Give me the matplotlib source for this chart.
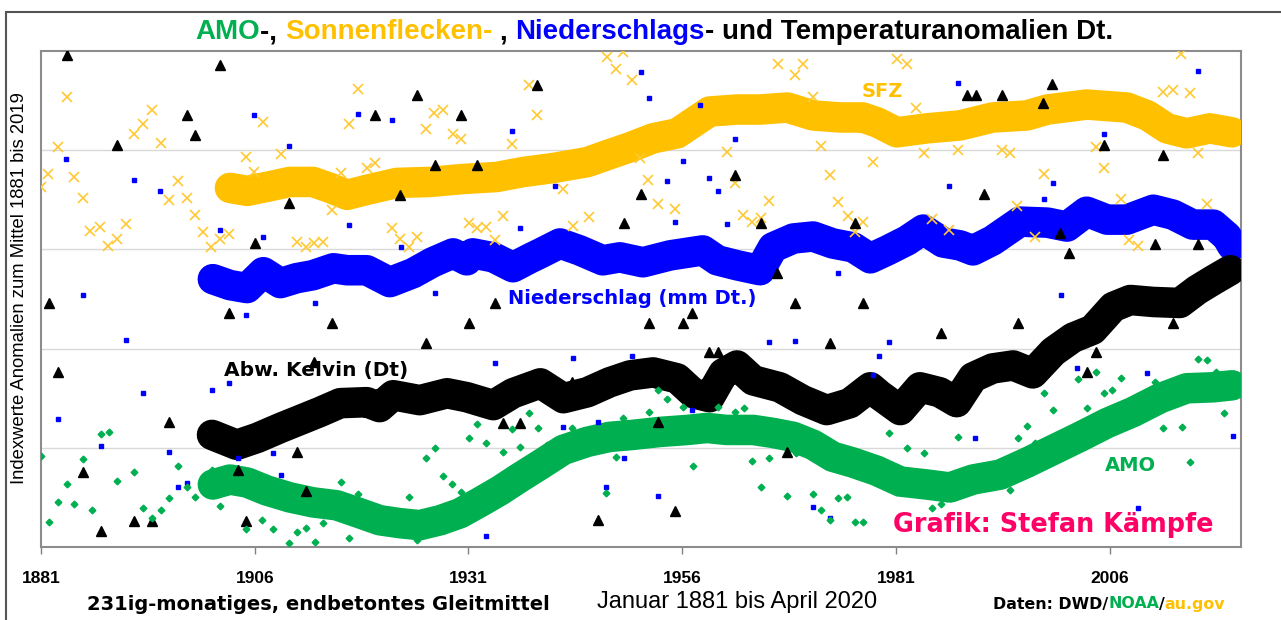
import matplotlib
matplotlib.use("Agg")
import matplotlib.pyplot as plt
from matplotlib.patches import Rectangle

# smoothed curves (231-month moving means), index units 0..5
sfz_years = [1903.1, 1905.1, 1907.4, 1910.1, 1912.8, 1914.8, 1916.8, 1919.1, 1922.6, 1926.5,
             1930.4, 1934.3, 1937.4, 1940.9, 1944.9, 1947.2, 1949.9, 1952.6, 1955.4, 1957.3,
             1959.2, 1962.4, 1965.1, 1968.3, 1971.3, 1974.5, 1977.1, 1978.8, 1981.1, 1984.6,
             1988.5, 1992.3, 1996.3, 1998.7, 2003.3, 2008.0, 2010.4, 2012.7, 2015.0, 2017.7, 2020.3]
sfz_vals = [3.62, 3.59, 3.63, 3.68, 3.68, 3.62, 3.55, 3.60, 3.67, 3.68,
            3.71, 3.73, 3.78, 3.82, 3.88, 3.95, 4.03, 4.12, 4.17, 4.28,
            4.39, 4.41, 4.41, 4.43, 4.35, 4.33, 4.33, 4.28, 4.18, 4.22,
            4.25, 4.33, 4.35, 4.41, 4.46, 4.43, 4.35, 4.22, 4.17, 4.22, 4.18]

ns_years = [1901.1, 1903.1, 1905.1, 1907.0, 1909.0, 1910.9, 1912.8, 1915.2, 1916.8, 1919.1,
            1921.8, 1924.5, 1926.8, 1929.2, 1930.8, 1931.5, 1933.9, 1936.2, 1938.2, 1939.4,
            1941.7, 1944.0, 1946.7, 1948.7, 1951.4, 1954.6, 1958.4, 1960.1, 1962.4, 1965.1,
            1966.6, 1969.0, 1971.3, 1973.6, 1976.0, 1978.0, 1980.0, 1982.3, 1984.2, 1986.5,
            1988.5, 1990.0, 1992.3, 1995.5, 1998.7, 2001.0, 2003.3, 2005.7, 2008.0, 2011.1,
            2013.4, 2015.7, 2018.1, 2019.7, 2020.3]
ns_vals = [2.70, 2.64, 2.61, 2.77, 2.66, 2.71, 2.74, 2.81, 2.79, 2.79,
           2.67, 2.76, 2.87, 2.96, 2.89, 2.96, 2.92, 2.82, 2.91, 2.96,
           3.06, 2.99, 2.89, 2.92, 2.87, 2.94, 2.99, 2.89, 2.84, 2.79,
           3.02, 3.11, 3.13, 3.06, 3.02, 2.91, 2.99, 3.09, 3.20, 3.07,
           3.04, 2.99, 3.09, 3.28, 3.27, 3.23, 3.38, 3.30, 3.30, 3.40,
           3.35, 3.25, 3.25, 3.13, 3.04]

t_years = [1901.0, 1903.9, 1906.3, 1909.0, 1911.3, 1913.6, 1916.0, 1919.1, 1920.6, 1922.2,
           1925.3, 1928.5, 1930.8, 1933.9, 1936.2, 1939.4, 1942.1, 1944.9, 1947.5, 1949.9,
           1952.6, 1955.4, 1957.3, 1959.2, 1960.8, 1962.4, 1964.3, 1967.4, 1970.1, 1972.9,
           1975.6, 1978.0, 1979.1, 1981.5, 1983.8, 1986.1, 1988.1, 1990.0, 1992.3, 1994.7,
           1997.0, 1999.4, 2001.7, 2004.0, 2006.4, 2008.4, 2011.1, 2014.2, 2016.2, 2018.1, 2020.1]
t_vals = [1.13, 1.03, 1.10, 1.20, 1.28, 1.36, 1.45, 1.46, 1.41, 1.53,
          1.48, 1.55, 1.51, 1.43, 1.55, 1.65, 1.50, 1.56, 1.66, 1.73,
          1.76, 1.70, 1.55, 1.51, 1.75, 1.83, 1.68, 1.61, 1.48, 1.38,
          1.45, 1.61, 1.53, 1.38, 1.61, 1.56, 1.46, 1.71, 1.80, 1.83,
          1.75, 1.97, 2.11, 2.19, 2.42, 2.49, 2.47, 2.46, 2.59, 2.69, 2.79]

amo_years = [1901.1, 1903.1, 1905.1, 1907.4, 1910.1, 1912.8, 1915.6, 1918.3, 1920.6, 1923.0,
             1925.3, 1927.7, 1930.0, 1932.3, 1934.7, 1937.0, 1939.4, 1942.1, 1944.9, 1947.5,
             1950.2, 1953.4, 1956.6, 1958.9, 1961.2, 1964.3, 1966.6, 1969.0, 1971.3, 1973.6,
             1976.0, 1978.7, 1981.5, 1984.6, 1987.3, 1990.0, 1993.2, 1996.3, 1999.4, 2002.5,
             2005.7, 2008.7, 2011.9, 2015.0, 2018.1, 2020.3]
amo_vals = [0.63, 0.68, 0.65, 0.57, 0.50, 0.45, 0.42, 0.34, 0.27, 0.24,
            0.22, 0.27, 0.34, 0.45, 0.57, 0.70, 0.83, 0.98, 1.06, 1.11,
            1.13, 1.16, 1.18, 1.20, 1.18, 1.18, 1.15, 1.11, 1.03, 0.91,
            0.85, 0.77, 0.66, 0.63, 0.60, 0.68, 0.73, 0.85, 0.98, 1.11,
            1.25, 1.36, 1.50, 1.60, 1.61, 1.63]

# yearly values (only those inside the visible range)
sfz_pt_x = [1884.0, 1883.0, 1881.8, 1884.9, 1885.9, 1881.0, 1886.7, 1887.9, 1888.8, 1889.9,
            1890.9, 1891.9, 1892.9, 1894.0, 1895.0, 1897.0, 1896.0, 1898.1, 1899.0, 1899.9,
            1900.9, 1901.9, 1903.0, 1905.0, 1905.9, 1907.0, 1909.1, 1910.9, 1912.0, 1912.9,
            1914.0, 1915.0, 1916.1, 1917.0, 1918.1, 1919.1, 1920.1, 1922.1, 1923.0, 1924.0,
            1925.0, 1926.0, 1927.0, 1928.0, 1929.2, 1930.1, 1931.1, 1932.0, 1933.0, 1934.1,
            1935.0, 1936.1, 1938.1, 1939.0, 1942.1, 1943.2, 1945.1, 1947.2, 1948.3, 1949.1,
            1950.1, 1951.1, 1952.0, 1953.2, 1955.2, 1961.2, 1962.2, 1963.1, 1964.2, 1965.2,
            1966.1, 1967.2, 1969.2, 1970.1, 1971.3, 1972.2, 1973.3, 1974.2, 1975.4, 1976.2,
            1977.1, 1978.3, 1981.1, 1982.3, 1983.3, 1984.3, 1985.2, 1987.2, 1988.3, 1993.4,
            1994.3, 1995.2, 1997.3, 1998.3, 2004.4, 2005.3, 2007.3, 2008.3, 2009.3, 2012.2,
            2013.4, 2014.3, 2015.4, 2016.3, 2017.4]
sfz_pt_y = [4.54, 4.03, 3.76, 3.73, 3.52, 3.63, 3.19, 3.23, 3.03, 3.10,
            3.26, 4.16, 4.26, 4.41, 4.07, 3.69, 3.50, 3.52, 3.35, 3.18,
            3.02, 3.10, 3.16, 3.93, 3.78, 4.28, 3.96, 3.07, 3.02, 3.06,
            3.07, 3.40, 3.77, 4.26, 4.62, 3.82, 3.87, 3.22, 3.10, 3.02,
            3.12, 4.21, 4.38, 4.41, 4.16, 4.11, 3.27, 3.22, 3.23, 3.09,
            3.34, 4.06, 4.66, 4.35, 3.61, 3.24, 3.33, 4.94, 4.82, 4.99,
            4.71, 3.92, 3.70, 3.46, 3.41, 3.98, 3.67, 3.35, 3.28, 3.32,
            3.49, 4.87, 4.76, 4.87, 4.54, 4.04, 3.75, 3.48, 3.34, 3.18,
            3.28, 3.88, 4.92, 4.87, 4.43, 3.97, 3.31, 3.20, 4.00, 4.00,
            3.97, 3.44, 3.13, 3.76, 4.03, 3.82, 3.51, 3.09, 3.03, 4.59,
            4.61, 4.97, 4.58, 3.97, 3.46]

ns_pt_x = [1883.9, 1885.9, 1883.0, 1888.0, 1890.9, 1891.9, 1892.9, 1894.9, 1896.0, 1897.0,
           1898.1, 1901.0, 1901.9, 1903.0, 1904.0, 1905.0, 1905.9, 1907.0, 1908.1, 1909.1,
           1910.0, 1913.0, 1917.0, 1918.1, 1922.1, 1923.1, 1927.1, 1933.0, 1934.1, 1936.1,
           1937.0, 1941.1, 1942.1, 1943.2, 1946.1, 1947.1, 1949.2, 1950.1, 1951.2, 1952.1,
           1953.2, 1954.2, 1955.2, 1956.1, 1957.1, 1958.1, 1959.1, 1960.2, 1961.2, 1962.2,
           1966.1, 1969.2, 1971.3, 1973.3, 1974.2, 1978.3, 1979.0, 1980.2, 1987.2, 1988.3,
           1990.2, 1998.3, 1999.4, 2000.3, 2002.2, 2005.3, 2009.3, 2010.4, 2016.3, 2020.4]
ns_pt_y = [3.91, 2.54, 1.29, 1.02, 2.09, 3.70, 1.55, 3.59, 0.96, 0.60,
           0.65, 1.58, 3.20, 1.65, 0.90, 2.34, 4.35, 3.12, 0.95, 0.73,
           4.04, 2.46, 3.25, 4.36, 4.30, 3.02, 2.56, 0.11, 1.85, 4.19,
           3.22, 3.64, 1.21, 1.91, 1.26, 0.60, 0.90, 1.93, 4.79, 4.53,
           0.51, 3.69, 3.28, 3.89, 1.38, 4.46, 3.72, 3.59, 3.26, 4.11,
           2.07, 2.08, 0.40, 0.29, 2.76, 1.73, 1.93, 2.07, 3.64, 4.68,
           1.10, 3.51, 3.67, 2.54, 1.80, 4.16, 0.39, 1.75, 4.80, 1.12]

t_pt_x = [1881.9, 1883.0, 1884.0, 1885.9, 1888.0, 1889.9, 1891.9, 1894.0, 1896.0, 1898.1,
          1899.0, 1901.9, 1903.0, 1904.0, 1905.0, 1906.0, 1910.0, 1910.9, 1912.0, 1912.9,
          1915.0, 1920.1, 1923.0, 1925.0, 1926.0, 1927.1, 1930.1, 1931.1, 1932.0, 1934.1,
          1935.0, 1937.0, 1939.0, 1943.1, 1946.1, 1949.2, 1951.2, 1952.1, 1953.2, 1955.2,
          1956.1, 1957.1, 1959.1, 1960.2, 1962.2, 1965.2, 1967.1, 1968.3, 1969.2, 1973.3,
          1976.2, 1977.1, 1986.3, 1989.3, 1990.4, 1991.3, 1993.4, 1995.3, 1998.2, 1999.2,
          2000.2, 2001.2, 2003.3, 2004.4, 2005.3, 2011.3, 2012.2, 2013.4, 2016.3]
t_pt_y = [2.46, 1.76, 4.96, 0.76, 0.16, 4.05, 0.26, 0.26, 1.26, 4.35,
          4.15, 4.86, 2.36, 0.78, 0.26, 3.06, 3.47, 0.96, 0.56, 1.86,
          2.26, 4.35, 3.55, 4.56, 2.06, 3.85, 4.35, 2.26, 3.85, 2.46,
          1.25, 1.25, 4.66, 1.66, 0.27, 3.27, 3.56, 2.26, 1.26, 0.36,
          2.26, 2.36, 1.97, 1.97, 3.75, 3.27, 2.76, 0.96, 2.46, 2.06,
          3.27, 2.46, 2.16, 4.56, 4.56, 3.56, 4.56, 2.26, 4.48, 4.67,
          3.17, 2.96, 1.76, 1.97, 4.05, 3.05, 3.95, 2.26, 3.05]

amo_pt_x = [1881.0, 1881.9, 1883.0, 1884.0, 1884.9, 1885.9, 1887.0, 1888.0, 1889.0, 1889.9,
            1891.9, 1892.9, 1894.0, 1895.0, 1896.0, 1897.0, 1898.1, 1899.0, 1901.0, 1901.9,
            1905.0, 1906.8, 1908.1, 1910.0, 1910.9, 1912.0, 1913.0, 1914.0, 1916.1, 1917.0,
            1918.1, 1924.0, 1925.0, 1926.0, 1927.1, 1928.0, 1929.1, 1930.1, 1931.1, 1932.0,
            1933.0, 1935.0, 1936.1, 1937.0, 1938.1, 1939.1, 1940.2, 1943.1, 1947.1, 1948.3,
            1949.1, 1952.1, 1953.2, 1954.2, 1956.1, 1957.3, 1960.2, 1962.2, 1963.2, 1964.2,
            1965.2, 1966.1, 1967.1, 1968.3, 1969.3, 1971.3, 1972.2, 1973.3, 1974.2, 1975.3,
            1976.2, 1977.1, 1978.3, 1980.2, 1981.0, 1982.3, 1984.3, 1985.2, 1986.3, 1988.3,
            1994.3, 1995.3, 1996.3, 1997.3, 1998.3, 1999.4, 2002.3, 2003.3, 2004.4, 2005.3,
            2006.3, 2007.3, 2011.3, 2012.2, 2014.5, 2015.4, 2016.3, 2017.4, 2018.4, 2019.4]
amo_pt_y = [0.92, 0.25, 0.45, 0.64, 0.43, 0.89, 0.37, 1.14, 1.16, 0.67,
            0.76, 0.39, 0.29, 0.37, 0.49, 0.82, 0.60, 0.50, 0.78, 0.41,
            0.18, 0.27, 0.18, 0.04, 0.15, 0.19, 0.05, 0.24, 0.66, 0.09,
            0.53, 0.50, 0.07, 0.90, 1.00, 0.72, 0.64, 0.55, 1.10, 1.24,
            1.05, 0.96, 1.19, 1.01, 1.35, 1.20, 1.03, 1.20, 0.54, 0.91,
            1.30, 1.36, 1.58, 1.49, 1.41, 0.82, 1.41, 1.36, 1.40, 0.87,
            0.60, 0.90, 1.25, 0.51, 0.95, 0.53, 0.37, 0.27, 0.49, 0.50,
            0.25, 0.25, 0.90, 1.15, 0.55, 1.00, 0.95, 0.39, 0.43, 1.11,
            0.57, 1.10, 1.22, 1.05, 1.55, 1.38, 1.69, 1.40, 1.76, 1.55,
            1.58, 1.70, 1.66, 1.20, 1.21, 0.86, 1.90, 1.89, 1.76, 1.35]

tick_years = [1881, 1906, 1931, 1956, 1981, 2006]

GREEN = "#00b050"
YELLOW = "#ffc000"
BLUE = "#0000ff"
PINK = "#ff0066"

W, H = 1281, 620
fig = plt.figure(figsize=(W / 100, H / 100), dpi=100)
ax = fig.add_axes([41 / W, 1 - 547 / H, 1200 / W, 496 / H])

lw = 22
ax.plot(sfz_years, sfz_vals, color=YELLOW, lw=lw, solid_capstyle="round", zorder=3)
ax.plot(ns_years, ns_vals, color=BLUE, lw=lw, solid_capstyle="round", zorder=3)
ax.plot(t_years, t_vals, color="black", lw=lw, solid_capstyle="round", zorder=3)
ax.plot(amo_years, amo_vals, color=GREEN, lw=lw, solid_capstyle="round", zorder=3)

ax.plot(sfz_pt_x, sfz_pt_y, ls="none", marker="x", ms=7, mew=1.2, color="#ffc933", zorder=4)
ax.plot(ns_pt_x, ns_pt_y, ls="none", marker="s", ms=3.5, color=BLUE, zorder=4)
ax.plot(t_pt_x, t_pt_y, ls="none", marker="^", ms=6.5, color="black", zorder=4)
ax.plot(amo_pt_x, amo_pt_y, ls="none", marker="D", ms=3.4, color=GREEN, zorder=4)

ax.set_xlim(1881, 1881 + 1200 / 8.55)
ax.set_ylim(0, 5)
ax.set_yticks([1, 2, 3, 4])
ax.yaxis.grid(True, color="#d9d9d9", lw=1)
ax.set_axisbelow(True)
ax.tick_params(axis="y", left=False, labelleft=False)
ax.set_xticks(tick_years)
ax.set_xticklabels([str(y) for y in tick_years], fontsize=12.5, fontweight="bold",
                   family="Liberation Sans")
ax.tick_params(axis="x", direction="out", length=5, width=1, color="#808080", pad=12)
for s in ax.spines.values():
    s.set_color("#8c8c8c")
    s.set_linewidth(1.5)

bold = dict(family="DejaVu Sans", fontweight="bold")
ax.text(1979.4, 4.59, "SFZ", color=YELLOW, fontsize=14, ha="center", va="center", **bold)
ax.text(1950.1, 2.50, "Niederschlag (mm Dt.)", color=BLUE, fontsize=14, ha="center", va="center", **bold)
ax.text(1913.2, 1.78, "Abw. Kelvin (Dt)", color="black", fontsize=14.5, ha="center", va="center", **bold)
ax.text(2008.4, 0.82, "AMO", color=GREEN, fontsize=14, ha="center", va="center", **bold)
ax.text(1999.4, 0.22, "Grafik: Stefan Kämpfe", color=PINK, fontsize=18.4, ha="center", va="center", **bold)

fig.text(20 / W, 1 - 288 / H, "Indexwerte Anomalien zum Mittel 1881 bis 2019", rotation=90,
         ha="center", va="center", fontsize=13.3, family="Liberation Sans")

# outer frame of the picture
fig.add_artist(Rectangle((6 / W, -0.1), 1.2, 1.1 - 12 / H, transform=fig.transFigure,
                         fill=False, edgecolor="#555555", lw=1.5))

renderer = fig.canvas.get_renderer()


def text_width(s, **kw):
    if not s:
        return 0.0
    t = fig.text(0, 0, s + "|", **kw)
    w = t.get_window_extent(renderer).width
    t.remove()
    t = fig.text(0, 0, "|", **kw)
    w -= t.get_window_extent(renderer).width
    t.remove()
    return w


def coloured_text(x_px, y_px, pieces, centre=False, **kw):
    full = "".join(p for p, _ in pieces)
    start = x_px - (text_width(full, **kw) / 2 if centre else 0)
    prefix = ""
    for s, c in pieces:
        lead = len(s) - len(s.lstrip())
        off = text_width(prefix + s[:lead], **kw)
        fig.text((start + off) / W, 1 - y_px / H, s.lstrip(), color=c,
                 ha="left", va="center", **kw)
        prefix += s


title_kw = dict(fontsize=20, family="Liberation Sans", fontweight="bold")
coloured_text(654, 32, [("AMO", GREEN), ("-, ", "black"), ("Sonnenflecken-", YELLOW),
                        (" , ", "black"), ("Niederschlags", BLUE),
                        ("- und Temperaturanomalien Dt.", "black")], centre=True, **title_kw)

fig.text(87 / W, 1 - 604 / H, "231ig-monatiges, endbetontes Gleitmittel", ha="left",
         va="center", fontsize=14, **bold)
fig.text(597 / W, 1 - 602 / H, "Januar 1881 bis April 2020", ha="left", va="center",
         fontsize=17, family="Liberation Sans")
coloured_text(993, 604, [("Daten: DWD/", "black"), ("NOAA", GREEN), ("/", "black"),
                         ("au.gov", YELLOW)], fontsize=11.4, **bold)

fig.savefig("out.png", dpi=100)
